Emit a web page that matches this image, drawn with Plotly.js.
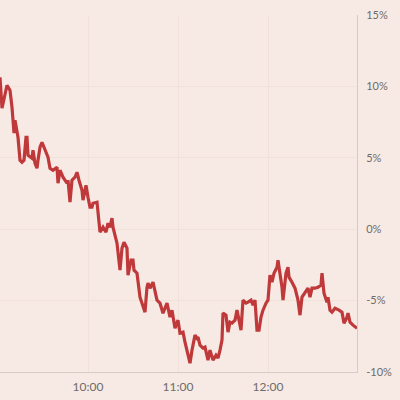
<!DOCTYPE html>
<html>
<head>
<meta charset="utf-8">
<script src="https://cdn.plot.ly/plotly-3.0.1.min.js"></script>
<style>html,body{margin:0;padding:0;background:#f7eae5;}#chart{width:400px;height:400px;}</style>
</head>
<body>
<div id="chart"></div>
<script>
var day = "2024-01-02 ";
var times = ["09:01:20","09:02:40","09:06:00","09:08:00","09:09:20","09:10:40","09:11:20","09:12:40","09:13:20","09:14:40",
"09:16:00","09:17:20","09:18:40","09:19:20","09:20:00","09:22:40","09:23:20","09:24:40","09:26:00","09:26:40",
"09:28:00","09:29:20","09:31:20","09:33:20","09:34:40","09:36:40","09:39:20","09:40:00","09:41:20","09:43:20",
"09:46:00","09:46:40","09:48:00","09:49:20","09:51:20","09:52:40","09:54:00","09:56:00","09:56:40","09:58:40",
"10:00:00","10:01:20","10:02:40","10:03:20","10:06:00","10:06:40","10:08:00","10:10:00","10:12:00","10:13:20",
"10:14:40","10:16:00","10:16:40","10:19:20","10:21:20","10:22:40","10:24:00","10:26:00","10:26:40","10:28:40",
"10:30:00","10:30:40","10:32:40","10:34:40","10:36:40","10:38:00","10:39:20","10:40:00","10:41:20","10:43:20",
"10:46:00","10:48:00","10:50:00","10:52:40","10:54:40","10:56:00","10:58:00","11:00:00","11:01:20","11:03:20",
"11:04:40","11:06:40","11:08:00","11:09:20","11:11:20","11:12:40","11:13:20","11:14:40","11:16:40","11:18:00",
"11:20:00","11:21:20","11:22:40","11:23:20","11:25:20","11:26:40","11:28:00","11:29:20","11:30:00","11:32:00",
"11:33:20","11:34:40","11:36:00","11:38:00","11:39:20","11:40:40","11:42:00","11:43:20","11:45:20","11:46:40",
"11:48:40","11:50:00","11:51:20","11:52:40","11:54:00","11:55:20","11:56:40","11:58:40","12:00:00","12:01:20",
"12:02:40","12:04:00","12:06:00","12:06:40","12:08:00","12:09:20","12:10:00","12:12:00","12:13:20","12:14:00",
"12:16:00","12:18:00","12:20:00","12:21:20","12:22:40","12:24:40","12:26:40","12:28:00","12:29:20","12:31:20",
"12:33:20","12:35:20","12:36:00","12:37:20","12:39:20","12:40:00","12:41:20","12:42:40","12:44:40","12:47:20",
"12:49:20","12:50:40","12:52:40","12:53:20","12:54:40","12:56:40","12:59:20"];
var changePct = [10.64,8.47,10.08,9.73,8.54,6.72,7.63,6.72,6.44,4.83,
4.69,4.83,6.44,6.44,5.18,4.97,5.53,4.62,4.27,4.83,
5.74,6.09,5.53,5.04,4.27,4.13,4.34,3.22,4.13,3.64,
3.22,3.43,1.89,3.43,3.64,3.99,3.43,2.73,2.03,3.08,
2.24,1.54,1.54,1.82,1.89,1.12,-0.21,0.14,-0.21,0.42,
0.14,0.77,0.14,-0.98,-2.87,-1.33,-0.91,-1.33,-3.22,-2.17,
-2.17,-2.87,-3.08,-4.76,-5.32,-5.81,-4.06,-3.78,-4.13,-3.71,
-4.97,-5.18,-5.88,-5.18,-6.16,-5.67,-6.93,-6.37,-7.28,-7.21,
-7.91,-8.68,-9.38,-8.47,-7.42,-7.63,-7.56,-8.12,-8.33,-8.26,
-9.17,-8.47,-8.96,-9.17,-8.82,-9.03,-8.47,-7.77,-5.88,-6.02,
-7.21,-6.51,-6.58,-6.37,-5.67,-6.37,-7.07,-4.97,-5.18,-5.11,
-4.97,-5.32,-4.97,-7.07,-7.07,-6.16,-5.67,-5.18,-4.97,-3.22,
-3.71,-3.08,-2.66,-2.17,-3.08,-4.06,-4.97,-3.08,-2.66,-3.36,
-3.71,-4.13,-4.97,-6.02,-4.76,-4.48,-4.13,-4.76,-4.13,-4.13,
-4.06,-3.92,-3.08,-4.48,-5.11,-4.76,-5.67,-5.81,-5.53,-5.67,
-5.81,-6.58,-6.16,-5.88,-6.51,-6.72,-6.93];
var yTicks = [-10,-5,0,5,10,15];
var yTickText = ["-10%","-5%","0%","5%","10%","15%"];
var xTicks = ["10:00","11:00","12:00"];

var trace = {
  x: times.map(function(t){return day + t;}),
  y: changePct,
  type: "scatter",
  mode: "lines",
  line: {color: "#c0393a", width: 3.2},
  hoverinfo: "skip"
};
var layout = {
  width: 400, height: 400,
  margin: {l: 0, r: 43, t: 15, b: 28, pad: 0},
  paper_bgcolor: "#f7eae5",
  plot_bgcolor: "#f7eae5",
  showlegend: false,
  font: {family: "Lato, 'Open Sans', sans-serif", size: 11, color: "#6f6a68"},
  xaxis: {
    type: "date",
    range: [day + "09:01:20", day + "12:59:20"],
    tickvals: xTicks.map(function(t){return day + t;}),
    ticktext: xTicks,
    showgrid: true, gridcolor: "#f0e1d9", gridwidth: 1,
    showline: true, linecolor: "#d6cbc6", linewidth: 1,
    ticks: "", zeroline: false,
    ticklabelstandoff: 4,
    tickfont: {size: 12, color: "#6f6a68"}
  },
  yaxis: {
    side: "right",
    range: [-10, 15],
    tickvals: yTicks,
    ticktext: yTickText,
    showgrid: true, gridcolor: "#f0e1d9", gridwidth: 1,
    showline: true, linecolor: "#d6cbc6", linewidth: 1,
    ticks: "", zeroline: false,
    ticklabelstandoff: 6,
    tickfont: {size: 11, color: "#6f6a68"}
  }
};
Plotly.newPlot("chart", [trace], layout, {staticPlot: true, displayModeBar: false});
</script>
</body>
</html>
